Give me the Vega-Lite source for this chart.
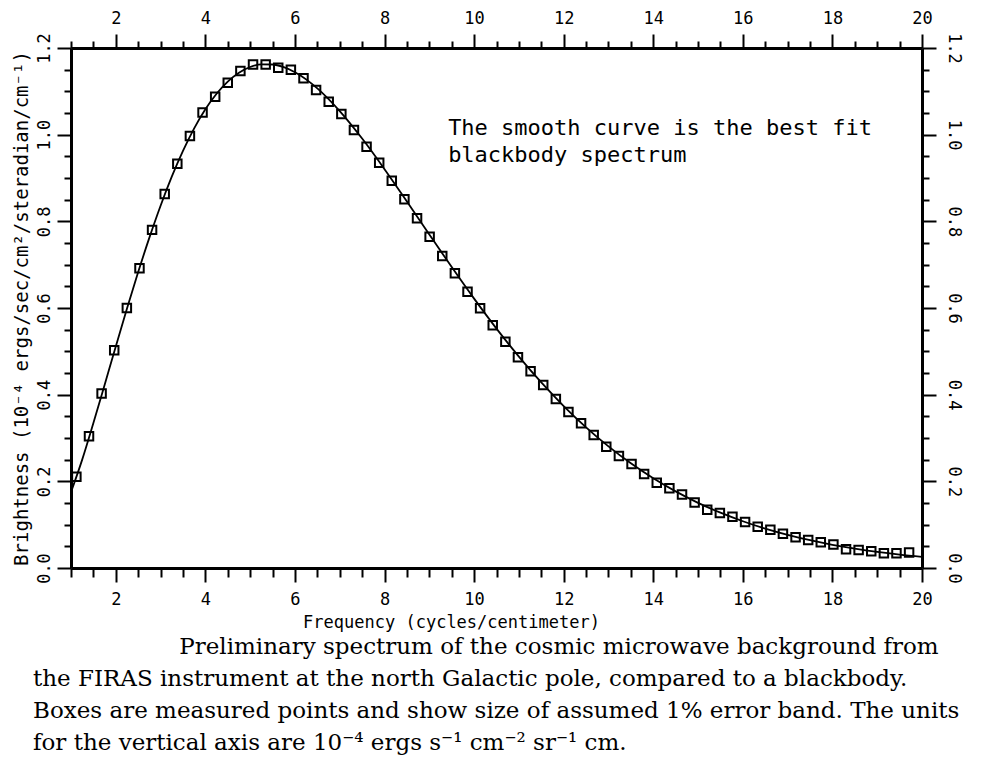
{
  "$schema": "https://vega.github.io/schema/vega-lite/v6.json",
  "width": 851,
  "height": 520,
  "autosize": {"type": "none"},
  "padding": {"left": 71, "top": 48, "right": 70, "bottom": 194},
  "background": "white",
  "title": {
    "text": [
      "\u200b\u00a0\u00a0\u00a0\u00a0\u00a0\u00a0\u00a0\u00a0\u00a0\u00a0\u00a0\u00a0\u00a0\u00a0\u00a0\u00a0\u00a0\u00a0\u00a0\u00a0Preliminary spectrum of the cosmic microwave background from",
      "the FIRAS instrument at the north Galactic pole, compared to a blackbody.",
      "Boxes are measured points and show size of assumed 1% error band. The units",
      "for the vertical axis are 10⁻⁴ ergs s⁻¹ cm⁻² sr⁻¹ cm."
    ],
    "orient": "bottom",
    "anchor": "start",
    "frame": "group",
    "align": "left",
    "dx": -38,
    "offset": 6,
    "font": "DejaVu Serif",
    "fontSize": 23,
    "fontWeight": "normal",
    "color": "black",
    "lineHeight": 32
  },
  "datasets": {
    "fit": [
      {"nu": 1.0, "b": 0.175}, {"nu": 1.25, "b": 0.2501}, {"nu": 1.5, "b": 0.3346}, {"nu": 1.75, "b": 0.4225},
      {"nu": 2.0, "b": 0.5113}, {"nu": 2.25, "b": 0.5986}, {"nu": 2.5, "b": 0.6829}, {"nu": 2.75, "b": 0.7624},
      {"nu": 3.0, "b": 0.8361}, {"nu": 3.25, "b": 0.9031}, {"nu": 3.5, "b": 0.9627}, {"nu": 3.75, "b": 1.0146},
      {"nu": 4.0, "b": 1.0586}, {"nu": 4.25, "b": 1.0944}, {"nu": 4.5, "b": 1.1225}, {"nu": 4.75, "b": 1.143},
      {"nu": 5.0, "b": 1.1561}, {"nu": 5.25, "b": 1.1623}, {"nu": 5.5, "b": 1.1619}, {"nu": 5.75, "b": 1.1557},
      {"nu": 6.0, "b": 1.1442}, {"nu": 6.5, "b": 1.1069}, {"nu": 7.0, "b": 1.0544}, {"nu": 7.5, "b": 0.991},
      {"nu": 8.0, "b": 0.9204}, {"nu": 8.5, "b": 0.8457}, {"nu": 9.0, "b": 0.7696}, {"nu": 9.5, "b": 0.6944},
      {"nu": 10.0, "b": 0.6216}, {"nu": 10.5, "b": 0.5525}, {"nu": 11.0, "b": 0.4879}, {"nu": 11.5, "b": 0.4282},
      {"nu": 12.0, "b": 0.3738}, {"nu": 12.5, "b": 0.3247}, {"nu": 13.0, "b": 0.2806}, {"nu": 13.5, "b": 0.2415},
      {"nu": 14.0, "b": 0.207}, {"nu": 14.5, "b": 0.1768}, {"nu": 15.0, "b": 0.1504}, {"nu": 15.5, "b": 0.1276},
      {"nu": 16.0, "b": 0.1079}, {"nu": 16.5, "b": 0.0909}, {"nu": 17.0, "b": 0.0765}, {"nu": 17.5, "b": 0.0641},
      {"nu": 18.0, "b": 0.0536}, {"nu": 18.5, "b": 0.0448}, {"nu": 19.0, "b": 0.0373}, {"nu": 19.5, "b": 0.031},
      {"nu": 20.0, "b": 0.0257}
    ],
    "measured": [
      {"nu": 1.120, "b": 0.2105}, {"nu": 1.402, "b": 0.3039}, {"nu": 1.683, "b": 0.4027}, {"nu": 1.965, "b": 0.5024},
      {"nu": 2.247, "b": 0.5998}, {"nu": 2.529, "b": 0.6917}, {"nu": 2.810, "b": 0.7803}, {"nu": 3.092, "b": 0.8629},
      {"nu": 3.374, "b": 0.9328}, {"nu": 3.655, "b": 0.9968}, {"nu": 3.937, "b": 1.0512}, {"nu": 4.219, "b": 1.0877},
      {"nu": 4.500, "b": 1.1198}, {"nu": 4.782, "b": 1.147}, {"nu": 5.064, "b": 1.1618}, {"nu": 5.346, "b": 1.1618},
      {"nu": 5.627, "b": 1.1546}, {"nu": 5.909, "b": 1.15}, {"nu": 6.191, "b": 1.1302}, {"nu": 6.472, "b": 1.1032},
      {"nu": 6.754, "b": 1.0762}, {"nu": 7.036, "b": 1.0478}, {"nu": 7.317, "b": 1.0108}, {"nu": 7.599, "b": 0.9723},
      {"nu": 7.881, "b": 0.9354}, {"nu": 8.162, "b": 0.8938}, {"nu": 8.444, "b": 0.8509}, {"nu": 8.726, "b": 0.8071},
      {"nu": 9.007, "b": 0.7646}, {"nu": 9.289, "b": 0.7201}, {"nu": 9.571, "b": 0.6801}, {"nu": 9.853, "b": 0.6377},
      {"nu": 10.134, "b": 0.5994}, {"nu": 10.416, "b": 0.56}, {"nu": 10.698, "b": 0.5223}, {"nu": 10.979, "b": 0.4863},
      {"nu": 11.261, "b": 0.454}, {"nu": 11.543, "b": 0.4223}, {"nu": 11.825, "b": 0.39}, {"nu": 12.106, "b": 0.36},
      {"nu": 12.388, "b": 0.3339}, {"nu": 12.670, "b": 0.3069}, {"nu": 12.951, "b": 0.2799}, {"nu": 13.233, "b": 0.2585},
      {"nu": 13.515, "b": 0.24}, {"nu": 13.796, "b": 0.2169}, {"nu": 14.078, "b": 0.1969}, {"nu": 14.360, "b": 0.1839},
      {"nu": 14.642, "b": 0.1696}, {"nu": 14.923, "b": 0.151}, {"nu": 15.205, "b": 0.1345}, {"nu": 15.487, "b": 0.1269},
      {"nu": 15.768, "b": 0.1184}, {"nu": 16.050, "b": 0.1062}, {"nu": 16.332, "b": 0.0953}, {"nu": 16.614, "b": 0.0884},
      {"nu": 16.895, "b": 0.0792}, {"nu": 17.177, "b": 0.0709}, {"nu": 17.459, "b": 0.0646}, {"nu": 17.740, "b": 0.0593},
      {"nu": 18.022, "b": 0.0542}, {"nu": 18.304, "b": 0.0432}, {"nu": 18.585, "b": 0.0415}, {"nu": 18.867, "b": 0.0385},
      {"nu": 19.149, "b": 0.0339}, {"nu": 19.430, "b": 0.0339}, {"nu": 19.712, "b": 0.0358}
    ],
    "notes": [
      {"nu": 9.42, "b": 0.9993, "label": "The smooth curve is the best fit"},
      {"nu": 9.42, "b": 0.9363, "label": "blackbody spectrum"}
    ]
  },
  "resolve": {"axis": {"x": "independent", "y": "independent"}},
  "layer": [
    {
      "data": {"name": "fit"},
      "mark": {"type": "line", "color": "black", "strokeWidth": 1.8, "interpolate": "monotone", "clip": true},
      "encoding": {
        "x": {
          "field": "nu", "type": "quantitative",
          "scale": {"domain": [1, 20], "nice": false, "zero": false},
          "axis": {
            "orient": "bottom",
            "values": [1,1.5,2,2.5,3,3.5,4,4.5,5,5.5,6,6.5,7,7.5,8,8.5,9,9.5,10,10.5,11,11.5,12,12.5,13,13.5,14,14.5,15,15.5,16,16.5,17,17.5,18,18.5,19,19.5,20],
            "labelExpr": "datum.value % 2 === 0 ? format(datum.value, 'd') : ''",
            "tickSize": {"condition": {"test": "datum.value % 2 === 0", "value": 14}, "value": 9},
            "labelPadding": 9,
            "title": "Frequency (cycles/centimeter)",
            "titleFont": "DejaVu Sans Mono",
            "titleFontSize": 17,
            "titleX": 380,
            "titlePadding": 7
          }
        },
        "y": {
          "field": "b", "type": "quantitative",
          "scale": {"domain": [0, 1.2], "nice": false, "zero": false},
          "axis": {
            "orient": "left",
            "values": [0,0.05,0.1,0.15,0.2,0.25,0.3,0.35,0.4,0.45,0.5,0.55,0.6,0.65,0.7,0.75,0.8,0.85,0.9,0.95,1,1.05,1.1,1.15,1.2],
            "labelExpr": "abs(datum.value*5 - round(datum.value*5)) < 0.001 ? format(datum.value, '.1f') : ''",
            "tickSize": {"condition": {"test": "abs(datum.value*5 - round(datum.value*5)) < 0.001", "value": 14}, "value": 7},
            "labelAngle": 270,
            "labelAlign": "center",
            "labelBaseline": "bottom",
            "labelPadding": 4,
            "title": "Brightness (10⁻⁴ ergs/sec/cm²/steradian/cm⁻¹)",
            "titleFont": "DejaVu Sans Mono",
            "titleFontSize": 19,
            "titlePadding": 4
          }
        }
      }
    },
    {
      "data": {"name": "measured"},
      "mark": {"type": "point", "shape": "square", "filled": false, "stroke": "black", "strokeWidth": 2, "size": 72, "opacity": 1},
      "encoding": {
        "x": {
          "field": "nu", "type": "quantitative",
          "scale": {"domain": [1, 20], "nice": false, "zero": false},
          "axis": {
            "orient": "top",
            "values": [1,1.5,2,2.5,3,3.5,4,4.5,5,5.5,6,6.5,7,7.5,8,8.5,9,9.5,10,10.5,11,11.5,12,12.5,13,13.5,14,14.5,15,15.5,16,16.5,17,17.5,18,18.5,19,19.5,20],
            "labelExpr": "datum.value % 2 === 0 ? format(datum.value, 'd') : ''",
            "tickSize": {"condition": {"test": "datum.value % 2 === 0", "value": 14}, "value": 7},
            "labelPadding": 7,
            "title": null
          }
        },
        "y": {
          "field": "b", "type": "quantitative",
          "scale": {"domain": [0, 1.2], "nice": false, "zero": false},
          "axis": {
            "orient": "right",
            "values": [0,0.05,0.1,0.15,0.2,0.25,0.3,0.35,0.4,0.45,0.5,0.55,0.6,0.65,0.7,0.75,0.8,0.85,0.9,0.95,1,1.05,1.1,1.15,1.2],
            "labelExpr": "abs(datum.value*5 - round(datum.value*5)) < 0.001 ? format(datum.value, '.1f') : ''",
            "tickSize": {"condition": {"test": "abs(datum.value*5 - round(datum.value*5)) < 0.001", "value": 14}, "value": 7},
            "labelAngle": 90,
            "labelAlign": "center",
            "labelBaseline": "bottom",
            "labelPadding": 8,
            "title": null
          }
        }
      }
    },
    {
      "data": {"name": "notes"},
      "mark": {"type": "text", "align": "left", "baseline": "alphabetic", "font": "DejaVu Sans Mono", "fontSize": 22, "color": "black"},
      "encoding": {
        "x": {"field": "nu", "type": "quantitative", "scale": {"domain": [1, 20], "nice": false, "zero": false}, "axis": null},
        "y": {"field": "b", "type": "quantitative", "scale": {"domain": [0, 1.2], "nice": false, "zero": false}, "axis": null},
        "text": {"field": "label"}
      }
    }
  ],
  "config": {
    "view": {"stroke": null},
    "axis": {
      "grid": false,
      "domainColor": "black",
      "domainWidth": 3,
      "tickColor": "black",
      "tickWidth": 2,
      "labelFont": "DejaVu Sans Mono",
      "labelFontSize": 17,
      "labelColor": "black",
      "labelFlush": false,
      "labelOverlap": false,
      "titleColor": "black",
      "titleFontWeight": "normal"
    }
  }
}
